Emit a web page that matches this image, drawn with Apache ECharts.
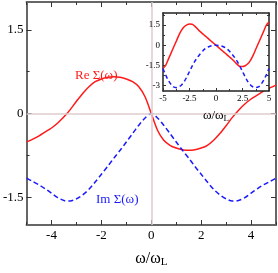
<!DOCTYPE html>
<html><head><meta charset="utf-8">
<script src="https://cdn.jsdelivr.net/npm/echarts@6/dist/echarts.min.js"></script>
<style>html,body{margin:0;padding:0;background:#fff}#c{width:278px;height:273px}</style>
</head><body><div id="c"></div>
<script>
const omega = [-5,-4.75,-4.5,-4.25,-4,-3.75,-3.5,-3.25,-3,-2.75,-2.5,-2.25,-2,-1.75,-1.5,-1.25,-1,-0.75,-0.5,-0.25,0,0.25,0.5,0.75,1,1.25,1.5,1.75,2,2.25,2.5,2.75,3,3.25,3.5,3.75,4,4.25,4.5,4.75,5];
const mainRe = [-0.51,-0.46,-0.40,-0.33,-0.26,-0.17,-0.06,0.07,0.22,0.36,0.48,0.57,0.62,0.65,0.66,0.65,0.62,0.57,0.48,0.30,0,-0.30,-0.48,-0.57,-0.62,-0.65,-0.66,-0.65,-0.62,-0.57,-0.48,-0.36,-0.22,-0.07,0.06,0.17,0.26,0.33,0.40,0.46,0.51];
const mainIm = [-1.16,-1.22,-1.28,-1.35,-1.43,-1.51,-1.56,-1.57,-1.53,-1.46,-1.36,-1.23,-1.09,-0.95,-0.80,-0.66,-0.51,-0.36,-0.21,-0.08,0,-0.08,-0.21,-0.36,-0.51,-0.66,-0.80,-0.95,-1.09,-1.23,-1.36,-1.46,-1.53,-1.57,-1.56,-1.51,-1.43,-1.35,-1.28,-1.22,-1.16];
const insetRe = [-1.72,-1.5,-1.05,-0.6,-0.15,0.3,0.75,1.12,1.38,1.52,1.58,1.57,1.42,1.22,1.02,0.85,0.68,0.51,0.34,0.17,0,-0.17,-0.34,-0.51,-0.68,-0.85,-1.02,-1.22,-1.42,-1.57,-1.58,-1.52,-1.38,-1.12,-0.75,-0.3,0.15,0.6,1.05,1.5,1.72];
const insetIm = [-1.72,-2.2,-2.6,-2.9,-3.1,-3.15,-3.1,-2.95,-2.7,-2.35,-1.95,-1.55,-1.2,-0.9,-0.65,-0.42,-0.25,-0.13,-0.05,-0.01,0,-0.01,-0.05,-0.13,-0.25,-0.42,-0.65,-0.9,-1.2,-1.55,-1.95,-2.35,-2.7,-2.95,-3.1,-3.15,-3.1,-2.9,-2.6,-2.2,-1.72];

const mainXMajor = [-4,-2,0,2,4];
const mainXMinor = [-5,-3,-1,1,3,5];
const mainYMajor = [-1.5,0,1.5];
const mainYMinor = [-0.75,0.75];
const insetXMajor = [-5,-2.5,0,2.5,5];
const insetXMinor = [-3.75,-1.25,1.25,3.75];
const insetYMajor = [-3,-1.5,0,1.5];
const insetYMinor = [-2.25,-0.75,0.75,2.25];

const SERIF = '"Liberation Serif","DejaVu Serif",serif';
const pairs = (xs, ys) => xs.map((x, i) => [x, ys[i]]);

function axes(dim, grid, min, max, major, minor, lab, cfg) {
  const sides = dim === 'x' ? ['bottom','top'] : ['left','right'];
  const out = [];
  sides.forEach((pos, si) => {
    out.push({
      type:'value', gridIndex:grid, position:pos, min:min, max:max, z:cfg.z,
      axisLine:{show:true, onZero:false, lineStyle:{color:cfg.lineColor, width:cfg.lineWidth}},
      axisTick:{show:true, inside:true, length:cfg.major, customValues:major, lineStyle:{color:'#333', width:1}},
      axisLabel: si === 0 ? {show:true, customValues:lab, fontFamily:SERIF, fontSize:cfg.fs, color:'#000', margin:cfg.margin} : {show:false},
      splitLine:{show:false},
      name: si === 0 ? cfg.name : '',
      nameLocation:'middle', nameGap: cfg.nameGap || 0,
      nameTextStyle: cfg.nameStyle || {}
    });
    out.push({
      type:'value', gridIndex:grid, position:pos, min:min, max:max, z:cfg.z,
      axisLine:{show:false, onZero:false},
      axisTick:{show:true, inside:true, length:cfg.minor, customValues:minor, lineStyle:{color:'#333', width:1}},
      axisLabel:{show:false}, splitLine:{show:false}
    });
  });
  return out;
}

const xName = (fa, fb, pad) => ({
  rich:{
    a:{fontFamily:SERIF, fontSize:fa, color:'#000'},
    b:{fontFamily:SERIF, fontSize:fb, color:'#000', padding:[pad,0,0,0]}
  }
});

const xAxes = [].concat(
  axes('x',0,-5,5,mainXMajor,mainXMinor,mainXMajor,{z:0,lineColor:'#666',lineWidth:2,major:5,minor:3,fs:13,margin:4,name:'{a|ω/ω}{b|L}',nameGap:24,nameStyle:xName(16,11,8)}),
  axes('x',1,-5,5,insetXMajor,insetXMinor,insetXMajor,{z:11,lineColor:'#222',lineWidth:1.5,major:3,minor:2,fs:9,margin:3,name:'{a|ω/ω}{b|L}',nameGap:17,nameStyle:xName(13,9,6)})
);
const yAxes = [].concat(
  axes('y',0,-2,2,mainYMajor,mainYMinor,mainYMajor,{z:0,lineColor:'#666',lineWidth:2,major:5,minor:3,fs:13,margin:3}),
  axes('y',1,-3.4,2.4,insetYMajor,insetYMinor,insetYMajor,{z:11,lineColor:'#222',lineWidth:1.5,major:3,minor:2,fs:9,margin:3})
);

const zeroLine = (xi, yi, z) => ({
  type:'line', xAxisIndex:xi, yAxisIndex:yi, data:[], z:z, silent:true,
  markLine:{silent:true, symbol:['none','none'], label:{show:false},
    lineStyle:{color:'#dfcccc', width:1.5, type:'solid'},
    data:[{xAxis:0},{yAxis:0}]}
});

const chart = echarts.init(document.getElementById('c'), null, {renderer:'canvas'});
chart.setOption({
  animation:false,
  backgroundColor:'#fff',
  grid:[
    {left:23, top:2, width:253, height:238, show:false, z:0},
    {left:163, top:13, width:106, height:78, show:true, backgroundColor:'#fff', borderWidth:0, z:10}
  ],
  xAxis:xAxes,
  yAxis:yAxes,
  series:[
    zeroLine(0,0,1),
    {type:'line', xAxisIndex:0, yAxisIndex:0, data:pairs(omega,mainRe), smooth:0.3, showSymbol:false, z:3,
      lineStyle:{color:'#ff1a1a', width:1.5}},
    {type:'line', xAxisIndex:0, yAxisIndex:0, data:pairs(omega,mainIm), smooth:0.3, showSymbol:false, z:3,
      lineStyle:{color:'#1a1aff', width:1.5, type:[5,3]}},
    zeroLine(4,4,12),
    {type:'line', xAxisIndex:4, yAxisIndex:4, data:pairs(omega,insetRe), smooth:0.3, showSymbol:false, z:13,
      lineStyle:{color:'#ff1a1a', width:1.5}},
    {type:'line', xAxisIndex:4, yAxisIndex:4, data:pairs(omega,insetIm), smooth:0.3, showSymbol:false, z:13,
      lineStyle:{color:'#1a1aff', width:1.5, type:[4,3]}}
  ],
  graphic:[
    {type:'text', left:75, top:69, z:20, style:{text:'Re Σ(ω)', fill:'#ff1a1a', font:'13px ' + SERIF}},
    {type:'text', left:96, top:193, z:20, style:{text:'Im Σ(ω)', fill:'#1a1aff', font:'13px ' + SERIF}}
  ]
});
</script></body></html>
